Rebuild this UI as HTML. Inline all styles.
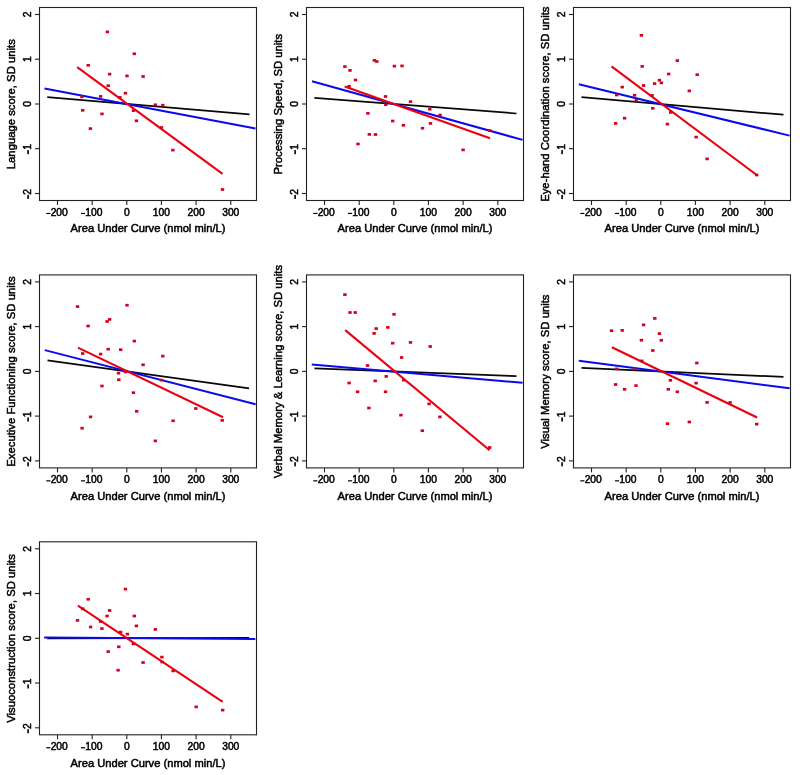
<!DOCTYPE html><html><head><meta charset="utf-8"><style>html,body{margin:0;padding:0;background:#fff;}svg{display:block;will-change:transform;}text{font-family:"Liberation Sans",sans-serif;fill:#000;stroke:#000;stroke-width:0.5px;}</style></head><body>
<svg width="800" height="775" viewBox="0 0 800 775">
<g transform="translate(0,0)"><clipPath id="c0"><rect x="39.5" y="7.5" width="217.0" height="193.0"/></clipPath><g clip-path="url(#c0)"><line x1="47.3" y1="97.1" x2="249.5" y2="114.3" stroke="#080808" stroke-width="1.75"/><line x1="44.5" y1="88.4" x2="255.5" y2="128.4" stroke="#0a0aee" stroke-width="2.0"/><line x1="77.2" y1="67.2" x2="222.5" y2="173.9" stroke="#ec0010" stroke-width="2.1"/><rect x="105.70" y="30.55" width="3.4" height="2.7" fill="#d4001e"/><rect x="132.60" y="52.45" width="3.4" height="2.7" fill="#d4001e"/><rect x="86.50" y="63.95" width="3.4" height="2.7" fill="#d4001e"/><rect x="107.90" y="72.75" width="3.4" height="2.7" fill="#d4001e"/><rect x="125.30" y="74.55" width="3.4" height="2.7" fill="#d4001e"/><rect x="141.40" y="75.15" width="3.4" height="2.7" fill="#d4001e"/><rect x="106.50" y="84.35" width="3.4" height="2.7" fill="#d4001e"/><rect x="123.70" y="91.85" width="3.4" height="2.7" fill="#d4001e"/><rect x="98.90" y="95.05" width="3.4" height="2.7" fill="#d4001e"/><rect x="80.20" y="95.45" width="3.4" height="2.7" fill="#d4001e"/><rect x="118.20" y="96.05" width="3.4" height="2.7" fill="#d4001e"/><rect x="153.60" y="103.45" width="3.4" height="2.7" fill="#d4001e"/><rect x="161.10" y="103.85" width="3.4" height="2.7" fill="#d4001e"/><rect x="159.70" y="126.15" width="3.4" height="2.7" fill="#d4001e"/><rect x="171.20" y="148.75" width="3.4" height="2.7" fill="#d4001e"/><rect x="220.80" y="188.15" width="3.4" height="2.7" fill="#d4001e"/><rect x="81.00" y="108.95" width="3.4" height="2.7" fill="#d4001e"/><rect x="100.30" y="112.55" width="3.4" height="2.7" fill="#d4001e"/><rect x="131.80" y="109.25" width="3.4" height="2.7" fill="#d4001e"/><rect x="134.70" y="119.45" width="3.4" height="2.7" fill="#d4001e"/><rect x="88.70" y="127.25" width="3.4" height="2.7" fill="#d4001e"/></g></g><g transform="translate(0,0)"><rect x="39.5" y="7.5" width="217.0" height="193.0" fill="none" stroke="#222" stroke-width="1.1"/><line x1="35" y1="14.5" x2="39.5" y2="14.5" stroke="#222" stroke-width="1.1"/><g transform="translate(31,14.5) rotate(-90)"><text x="0" y="0" text-anchor="middle" font-size="10.3" class="t">2</text></g><line x1="35" y1="59.2" x2="39.5" y2="59.2" stroke="#222" stroke-width="1.1"/><g transform="translate(31,59.2) rotate(-90)"><text x="0" y="0" text-anchor="middle" font-size="10.3" class="t">1</text></g><line x1="35" y1="104.0" x2="39.5" y2="104.0" stroke="#222" stroke-width="1.1"/><g transform="translate(31,104.0) rotate(-90)"><text x="0" y="0" text-anchor="middle" font-size="10.3" class="t">0</text></g><line x1="35" y1="148.7" x2="39.5" y2="148.7" stroke="#222" stroke-width="1.1"/><g transform="translate(31,148.7) rotate(-90)"><rect x="-5.48" y="-3.70" width="4.12" height="1.6" fill="#000"/><text x="-1.15" y="0" font-size="10.3" class="t">1</text></g><line x1="35" y1="193.5" x2="39.5" y2="193.5" stroke="#222" stroke-width="1.1"/><g transform="translate(31,193.5) rotate(-90)"><rect x="-5.48" y="-3.70" width="4.12" height="1.6" fill="#000"/><text x="-1.15" y="0" font-size="10.3" class="t">2</text></g><line x1="57.5" y1="200.5" x2="57.5" y2="205" stroke="#222" stroke-width="1.1"/><g transform="translate(57.50,215.8)"><rect x="-11.21" y="-2.95" width="4.12" height="1.2" fill="#000"/><text x="-6.88" y="0" font-size="10.3" class="t">200</text></g><line x1="92.2" y1="200.5" x2="92.2" y2="205" stroke="#222" stroke-width="1.1"/><g transform="translate(92.15,215.8)"><rect x="-11.21" y="-2.95" width="4.12" height="1.2" fill="#000"/><text x="-6.88" y="0" font-size="10.3" class="t">100</text></g><line x1="126.8" y1="200.5" x2="126.8" y2="205" stroke="#222" stroke-width="1.1"/><g transform="translate(126.80,215.8)"><text x="0" y="0" text-anchor="middle" font-size="10.3" class="t">0</text></g><line x1="161.4" y1="200.5" x2="161.4" y2="205" stroke="#222" stroke-width="1.1"/><g transform="translate(161.45,215.8)"><text x="0" y="0" text-anchor="middle" font-size="10.3" class="t">100</text></g><line x1="196.1" y1="200.5" x2="196.1" y2="205" stroke="#222" stroke-width="1.1"/><g transform="translate(196.10,215.8)"><text x="0" y="0" text-anchor="middle" font-size="10.3" class="t">200</text></g><line x1="230.8" y1="200.5" x2="230.8" y2="205" stroke="#222" stroke-width="1.1"/><g transform="translate(230.75,215.8)"><text x="0" y="0" text-anchor="middle" font-size="10.3" class="t">300</text></g><text x="148" y="232.3" text-anchor="middle" font-size="11.15">Area Under Curve (nmol min/L)</text><text transform="translate(15.2,104.2) rotate(-90)" text-anchor="middle" font-size="11.3">Language score, SD units</text></g>
<g transform="translate(267,0)"><clipPath id="c1"><rect x="39.5" y="7.5" width="217.0" height="193.0"/></clipPath><g clip-path="url(#c1)"><line x1="47.4" y1="97.8" x2="249.5" y2="113.5" stroke="#080808" stroke-width="1.75"/><line x1="45.0" y1="81.3" x2="255.6" y2="139.9" stroke="#0a0aee" stroke-width="2.0"/><line x1="77.7" y1="86.4" x2="223.0" y2="138.2" stroke="#ec0010" stroke-width="2.1"/><rect x="105.70" y="59.05" width="3.4" height="2.7" fill="#d4001e"/><rect x="108.10" y="60.15" width="3.4" height="2.7" fill="#d4001e"/><rect x="76.20" y="65.25" width="3.4" height="2.7" fill="#d4001e"/><rect x="81.30" y="69.05" width="3.4" height="2.7" fill="#d4001e"/><rect x="125.70" y="64.75" width="3.4" height="2.7" fill="#d4001e"/><rect x="133.30" y="64.55" width="3.4" height="2.7" fill="#d4001e"/><rect x="86.80" y="78.65" width="3.4" height="2.7" fill="#d4001e"/><rect x="80.40" y="84.95" width="3.4" height="2.7" fill="#d4001e"/><rect x="116.80" y="95.15" width="3.4" height="2.7" fill="#d4001e"/><rect x="141.80" y="100.25" width="3.4" height="2.7" fill="#d4001e"/><rect x="117.10" y="103.35" width="3.4" height="2.7" fill="#d4001e"/><rect x="99.20" y="111.95" width="3.4" height="2.7" fill="#d4001e"/><rect x="124.00" y="119.65" width="3.4" height="2.7" fill="#d4001e"/><rect x="134.70" y="123.95" width="3.4" height="2.7" fill="#d4001e"/><rect x="100.60" y="133.05" width="3.4" height="2.7" fill="#d4001e"/><rect x="106.80" y="133.15" width="3.4" height="2.7" fill="#d4001e"/><rect x="89.30" y="142.65" width="3.4" height="2.7" fill="#d4001e"/><rect x="161.10" y="107.85" width="3.4" height="2.7" fill="#d4001e"/><rect x="171.40" y="113.75" width="3.4" height="2.7" fill="#d4001e"/><rect x="161.80" y="122.05" width="3.4" height="2.7" fill="#d4001e"/><rect x="153.80" y="126.85" width="3.4" height="2.7" fill="#d4001e"/><rect x="221.00" y="129.15" width="3.4" height="2.7" fill="#d4001e"/><rect x="194.40" y="148.55" width="3.4" height="2.7" fill="#d4001e"/></g></g><g transform="translate(267,0)"><rect x="39.5" y="7.5" width="217.0" height="193.0" fill="none" stroke="#222" stroke-width="1.1"/><line x1="35" y1="14.5" x2="39.5" y2="14.5" stroke="#222" stroke-width="1.1"/><g transform="translate(31,14.5) rotate(-90)"><text x="0" y="0" text-anchor="middle" font-size="10.3" class="t">2</text></g><line x1="35" y1="59.2" x2="39.5" y2="59.2" stroke="#222" stroke-width="1.1"/><g transform="translate(31,59.2) rotate(-90)"><text x="0" y="0" text-anchor="middle" font-size="10.3" class="t">1</text></g><line x1="35" y1="104.0" x2="39.5" y2="104.0" stroke="#222" stroke-width="1.1"/><g transform="translate(31,104.0) rotate(-90)"><text x="0" y="0" text-anchor="middle" font-size="10.3" class="t">0</text></g><line x1="35" y1="148.7" x2="39.5" y2="148.7" stroke="#222" stroke-width="1.1"/><g transform="translate(31,148.7) rotate(-90)"><rect x="-5.48" y="-3.70" width="4.12" height="1.6" fill="#000"/><text x="-1.15" y="0" font-size="10.3" class="t">1</text></g><line x1="35" y1="193.5" x2="39.5" y2="193.5" stroke="#222" stroke-width="1.1"/><g transform="translate(31,193.5) rotate(-90)"><rect x="-5.48" y="-3.70" width="4.12" height="1.6" fill="#000"/><text x="-1.15" y="0" font-size="10.3" class="t">2</text></g><line x1="57.5" y1="200.5" x2="57.5" y2="205" stroke="#222" stroke-width="1.1"/><g transform="translate(57.50,215.8)"><rect x="-11.21" y="-2.95" width="4.12" height="1.2" fill="#000"/><text x="-6.88" y="0" font-size="10.3" class="t">200</text></g><line x1="92.2" y1="200.5" x2="92.2" y2="205" stroke="#222" stroke-width="1.1"/><g transform="translate(92.15,215.8)"><rect x="-11.21" y="-2.95" width="4.12" height="1.2" fill="#000"/><text x="-6.88" y="0" font-size="10.3" class="t">100</text></g><line x1="126.8" y1="200.5" x2="126.8" y2="205" stroke="#222" stroke-width="1.1"/><g transform="translate(126.80,215.8)"><text x="0" y="0" text-anchor="middle" font-size="10.3" class="t">0</text></g><line x1="161.4" y1="200.5" x2="161.4" y2="205" stroke="#222" stroke-width="1.1"/><g transform="translate(161.45,215.8)"><text x="0" y="0" text-anchor="middle" font-size="10.3" class="t">100</text></g><line x1="196.1" y1="200.5" x2="196.1" y2="205" stroke="#222" stroke-width="1.1"/><g transform="translate(196.10,215.8)"><text x="0" y="0" text-anchor="middle" font-size="10.3" class="t">200</text></g><line x1="230.8" y1="200.5" x2="230.8" y2="205" stroke="#222" stroke-width="1.1"/><g transform="translate(230.75,215.8)"><text x="0" y="0" text-anchor="middle" font-size="10.3" class="t">300</text></g><text x="148" y="232.3" text-anchor="middle" font-size="11.15">Area Under Curve (nmol min/L)</text><text transform="translate(15.2,104.2) rotate(-90)" text-anchor="middle" font-size="11.3">Processing Speed, SD units</text></g>
<g transform="translate(534,0)"><clipPath id="c2"><rect x="39.5" y="7.5" width="217.0" height="193.0"/></clipPath><g clip-path="url(#c2)"><line x1="47.5" y1="97.2" x2="249.5" y2="114.7" stroke="#080808" stroke-width="1.75"/><line x1="44.8" y1="84.3" x2="255.6" y2="135.6" stroke="#0a0aee" stroke-width="2.0"/><line x1="77.5" y1="66.4" x2="222.7" y2="175" stroke="#ec0010" stroke-width="2.1"/><rect x="105.70" y="33.95" width="3.4" height="2.7" fill="#d4001e"/><rect x="141.60" y="59.25" width="3.4" height="2.7" fill="#d4001e"/><rect x="106.50" y="65.05" width="3.4" height="2.7" fill="#d4001e"/><rect x="133.00" y="72.65" width="3.4" height="2.7" fill="#d4001e"/><rect x="123.70" y="78.85" width="3.4" height="2.7" fill="#d4001e"/><rect x="125.70" y="81.45" width="3.4" height="2.7" fill="#d4001e"/><rect x="118.90" y="82.25" width="3.4" height="2.7" fill="#d4001e"/><rect x="107.90" y="84.15" width="3.4" height="2.7" fill="#d4001e"/><rect x="86.50" y="85.75" width="3.4" height="2.7" fill="#d4001e"/><rect x="81.00" y="93.65" width="3.4" height="2.7" fill="#d4001e"/><rect x="98.90" y="93.85" width="3.4" height="2.7" fill="#d4001e"/><rect x="116.40" y="94.05" width="3.4" height="2.7" fill="#d4001e"/><rect x="100.60" y="98.95" width="3.4" height="2.7" fill="#d4001e"/><rect x="161.50" y="73.35" width="3.4" height="2.7" fill="#d4001e"/><rect x="153.60" y="89.55" width="3.4" height="2.7" fill="#d4001e"/><rect x="117.10" y="106.95" width="3.4" height="2.7" fill="#d4001e"/><rect x="88.90" y="116.85" width="3.4" height="2.7" fill="#d4001e"/><rect x="79.90" y="122.05" width="3.4" height="2.7" fill="#d4001e"/><rect x="131.70" y="122.75" width="3.4" height="2.7" fill="#d4001e"/><rect x="135.00" y="111.05" width="3.4" height="2.7" fill="#d4001e"/><rect x="160.40" y="135.75" width="3.4" height="2.7" fill="#d4001e"/><rect x="171.40" y="157.55" width="3.4" height="2.7" fill="#d4001e"/><rect x="221.00" y="173.65" width="3.4" height="2.7" fill="#d4001e"/></g></g><g transform="translate(534,0)"><rect x="39.5" y="7.5" width="217.0" height="193.0" fill="none" stroke="#222" stroke-width="1.1"/><line x1="35" y1="14.5" x2="39.5" y2="14.5" stroke="#222" stroke-width="1.1"/><g transform="translate(31,14.5) rotate(-90)"><text x="0" y="0" text-anchor="middle" font-size="10.3" class="t">2</text></g><line x1="35" y1="59.2" x2="39.5" y2="59.2" stroke="#222" stroke-width="1.1"/><g transform="translate(31,59.2) rotate(-90)"><text x="0" y="0" text-anchor="middle" font-size="10.3" class="t">1</text></g><line x1="35" y1="104.0" x2="39.5" y2="104.0" stroke="#222" stroke-width="1.1"/><g transform="translate(31,104.0) rotate(-90)"><text x="0" y="0" text-anchor="middle" font-size="10.3" class="t">0</text></g><line x1="35" y1="148.7" x2="39.5" y2="148.7" stroke="#222" stroke-width="1.1"/><g transform="translate(31,148.7) rotate(-90)"><rect x="-5.48" y="-3.70" width="4.12" height="1.6" fill="#000"/><text x="-1.15" y="0" font-size="10.3" class="t">1</text></g><line x1="35" y1="193.5" x2="39.5" y2="193.5" stroke="#222" stroke-width="1.1"/><g transform="translate(31,193.5) rotate(-90)"><rect x="-5.48" y="-3.70" width="4.12" height="1.6" fill="#000"/><text x="-1.15" y="0" font-size="10.3" class="t">2</text></g><line x1="57.5" y1="200.5" x2="57.5" y2="205" stroke="#222" stroke-width="1.1"/><g transform="translate(57.50,215.8)"><rect x="-11.21" y="-2.95" width="4.12" height="1.2" fill="#000"/><text x="-6.88" y="0" font-size="10.3" class="t">200</text></g><line x1="92.2" y1="200.5" x2="92.2" y2="205" stroke="#222" stroke-width="1.1"/><g transform="translate(92.15,215.8)"><rect x="-11.21" y="-2.95" width="4.12" height="1.2" fill="#000"/><text x="-6.88" y="0" font-size="10.3" class="t">100</text></g><line x1="126.8" y1="200.5" x2="126.8" y2="205" stroke="#222" stroke-width="1.1"/><g transform="translate(126.80,215.8)"><text x="0" y="0" text-anchor="middle" font-size="10.3" class="t">0</text></g><line x1="161.4" y1="200.5" x2="161.4" y2="205" stroke="#222" stroke-width="1.1"/><g transform="translate(161.45,215.8)"><text x="0" y="0" text-anchor="middle" font-size="10.3" class="t">100</text></g><line x1="196.1" y1="200.5" x2="196.1" y2="205" stroke="#222" stroke-width="1.1"/><g transform="translate(196.10,215.8)"><text x="0" y="0" text-anchor="middle" font-size="10.3" class="t">200</text></g><line x1="230.8" y1="200.5" x2="230.8" y2="205" stroke="#222" stroke-width="1.1"/><g transform="translate(230.75,215.8)"><text x="0" y="0" text-anchor="middle" font-size="10.3" class="t">300</text></g><text x="148" y="232.3" text-anchor="middle" font-size="11.15">Area Under Curve (nmol min/L)</text><text transform="translate(15.2,104.2) rotate(-90)" text-anchor="middle" font-size="11.3">Eye-hand Coordination score, SD units</text></g>
<g transform="translate(0,267)"><clipPath id="c3"><rect x="39.5" y="7.5" width="217.0" height="193.0"/></clipPath><g clip-path="url(#c3)"><line x1="47.5" y1="93.4" x2="249.1" y2="121.3" stroke="#080808" stroke-width="1.75"/><line x1="44.8" y1="83.1" x2="255.6" y2="137.3" stroke="#0a0aee" stroke-width="2.0"/><line x1="77.9" y1="80.6" x2="223.1" y2="150.2" stroke="#ec0010" stroke-width="2.1"/><rect x="75.80" y="38.25" width="3.4" height="2.7" fill="#d4001e"/><rect x="125.30" y="36.85" width="3.4" height="2.7" fill="#d4001e"/><rect x="107.90" y="51.05" width="3.4" height="2.7" fill="#d4001e"/><rect x="105.40" y="53.15" width="3.4" height="2.7" fill="#d4001e"/><rect x="86.40" y="57.65" width="3.4" height="2.7" fill="#d4001e"/><rect x="132.60" y="72.75" width="3.4" height="2.7" fill="#d4001e"/><rect x="106.50" y="80.85" width="3.4" height="2.7" fill="#d4001e"/><rect x="119.00" y="81.35" width="3.4" height="2.7" fill="#d4001e"/><rect x="81.00" y="85.15" width="3.4" height="2.7" fill="#d4001e"/><rect x="98.90" y="85.75" width="3.4" height="2.7" fill="#d4001e"/><rect x="141.40" y="96.45" width="3.4" height="2.7" fill="#d4001e"/><rect x="116.80" y="104.85" width="3.4" height="2.7" fill="#d4001e"/><rect x="123.70" y="103.65" width="3.4" height="2.7" fill="#d4001e"/><rect x="161.10" y="87.75" width="3.4" height="2.7" fill="#d4001e"/><rect x="117.10" y="111.35" width="3.4" height="2.7" fill="#d4001e"/><rect x="100.30" y="117.65" width="3.4" height="2.7" fill="#d4001e"/><rect x="131.70" y="124.35" width="3.4" height="2.7" fill="#d4001e"/><rect x="135.00" y="142.95" width="3.4" height="2.7" fill="#d4001e"/><rect x="88.90" y="148.55" width="3.4" height="2.7" fill="#d4001e"/><rect x="80.40" y="159.85" width="3.4" height="2.7" fill="#d4001e"/><rect x="159.70" y="111.75" width="3.4" height="2.7" fill="#d4001e"/><rect x="194.10" y="140.15" width="3.4" height="2.7" fill="#d4001e"/><rect x="171.40" y="152.45" width="3.4" height="2.7" fill="#d4001e"/><rect x="220.50" y="152.05" width="3.4" height="2.7" fill="#d4001e"/><rect x="153.60" y="172.55" width="3.4" height="2.7" fill="#d4001e"/></g></g><g transform="translate(0,267.4)"><rect x="39.5" y="7.5" width="217.0" height="193.0" fill="none" stroke="#222" stroke-width="1.1"/><line x1="35" y1="14.5" x2="39.5" y2="14.5" stroke="#222" stroke-width="1.1"/><g transform="translate(31,14.5) rotate(-90)"><text x="0" y="0" text-anchor="middle" font-size="10.3" class="t">2</text></g><line x1="35" y1="59.2" x2="39.5" y2="59.2" stroke="#222" stroke-width="1.1"/><g transform="translate(31,59.2) rotate(-90)"><text x="0" y="0" text-anchor="middle" font-size="10.3" class="t">1</text></g><line x1="35" y1="104.0" x2="39.5" y2="104.0" stroke="#222" stroke-width="1.1"/><g transform="translate(31,104.0) rotate(-90)"><text x="0" y="0" text-anchor="middle" font-size="10.3" class="t">0</text></g><line x1="35" y1="148.7" x2="39.5" y2="148.7" stroke="#222" stroke-width="1.1"/><g transform="translate(31,148.7) rotate(-90)"><rect x="-5.48" y="-3.70" width="4.12" height="1.6" fill="#000"/><text x="-1.15" y="0" font-size="10.3" class="t">1</text></g><line x1="35" y1="193.5" x2="39.5" y2="193.5" stroke="#222" stroke-width="1.1"/><g transform="translate(31,193.5) rotate(-90)"><rect x="-5.48" y="-3.70" width="4.12" height="1.6" fill="#000"/><text x="-1.15" y="0" font-size="10.3" class="t">2</text></g><line x1="57.5" y1="200.5" x2="57.5" y2="205" stroke="#222" stroke-width="1.1"/><g transform="translate(57.50,215.8)"><rect x="-11.21" y="-2.95" width="4.12" height="1.2" fill="#000"/><text x="-6.88" y="0" font-size="10.3" class="t">200</text></g><line x1="92.2" y1="200.5" x2="92.2" y2="205" stroke="#222" stroke-width="1.1"/><g transform="translate(92.15,215.8)"><rect x="-11.21" y="-2.95" width="4.12" height="1.2" fill="#000"/><text x="-6.88" y="0" font-size="10.3" class="t">100</text></g><line x1="126.8" y1="200.5" x2="126.8" y2="205" stroke="#222" stroke-width="1.1"/><g transform="translate(126.80,215.8)"><text x="0" y="0" text-anchor="middle" font-size="10.3" class="t">0</text></g><line x1="161.4" y1="200.5" x2="161.4" y2="205" stroke="#222" stroke-width="1.1"/><g transform="translate(161.45,215.8)"><text x="0" y="0" text-anchor="middle" font-size="10.3" class="t">100</text></g><line x1="196.1" y1="200.5" x2="196.1" y2="205" stroke="#222" stroke-width="1.1"/><g transform="translate(196.10,215.8)"><text x="0" y="0" text-anchor="middle" font-size="10.3" class="t">200</text></g><line x1="230.8" y1="200.5" x2="230.8" y2="205" stroke="#222" stroke-width="1.1"/><g transform="translate(230.75,215.8)"><text x="0" y="0" text-anchor="middle" font-size="10.3" class="t">300</text></g><text x="148" y="232.3" text-anchor="middle" font-size="11.15">Area Under Curve (nmol min/L)</text><text transform="translate(15.2,104.2) rotate(-90)" text-anchor="middle" font-size="11.3">Executive Functioning score, SD units</text></g>
<g transform="translate(267,267)"><clipPath id="c4"><rect x="39.5" y="7.5" width="217.0" height="193.0"/></clipPath><g clip-path="url(#c4)"><line x1="47.5" y1="101.4" x2="249.5" y2="109.1" stroke="#080808" stroke-width="1.75"/><line x1="44.8" y1="97.5" x2="255.6" y2="115.8" stroke="#0a0aee" stroke-width="2.0"/><line x1="78.2" y1="63.1" x2="222.6" y2="183.2" stroke="#ec0010" stroke-width="2.1"/><rect x="76.20" y="26.25" width="3.4" height="2.7" fill="#d4001e"/><rect x="81.30" y="44.15" width="3.4" height="2.7" fill="#d4001e"/><rect x="86.50" y="44.15" width="3.4" height="2.7" fill="#d4001e"/><rect x="125.30" y="45.95" width="3.4" height="2.7" fill="#d4001e"/><rect x="107.50" y="60.25" width="3.4" height="2.7" fill="#d4001e"/><rect x="119.10" y="59.05" width="3.4" height="2.7" fill="#d4001e"/><rect x="105.40" y="65.05" width="3.4" height="2.7" fill="#d4001e"/><rect x="124.00" y="74.85" width="3.4" height="2.7" fill="#d4001e"/><rect x="141.80" y="74.05" width="3.4" height="2.7" fill="#d4001e"/><rect x="132.90" y="89.15" width="3.4" height="2.7" fill="#d4001e"/><rect x="98.80" y="97.15" width="3.4" height="2.7" fill="#d4001e"/><rect x="161.50" y="78.15" width="3.4" height="2.7" fill="#d4001e"/><rect x="117.50" y="108.05" width="3.4" height="2.7" fill="#d4001e"/><rect x="106.50" y="112.55" width="3.4" height="2.7" fill="#d4001e"/><rect x="80.40" y="114.65" width="3.4" height="2.7" fill="#d4001e"/><rect x="88.90" y="123.45" width="3.4" height="2.7" fill="#d4001e"/><rect x="116.80" y="123.45" width="3.4" height="2.7" fill="#d4001e"/><rect x="100.20" y="139.65" width="3.4" height="2.7" fill="#d4001e"/><rect x="132.20" y="146.75" width="3.4" height="2.7" fill="#d4001e"/><rect x="135.00" y="111.75" width="3.4" height="2.7" fill="#d4001e"/><rect x="160.40" y="135.55" width="3.4" height="2.7" fill="#d4001e"/><rect x="171.20" y="148.55" width="3.4" height="2.7" fill="#d4001e"/><rect x="153.60" y="162.35" width="3.4" height="2.7" fill="#d4001e"/><rect x="221.00" y="179.15" width="3.4" height="2.7" fill="#d4001e"/></g></g><g transform="translate(267,267.4)"><rect x="39.5" y="7.5" width="217.0" height="193.0" fill="none" stroke="#222" stroke-width="1.1"/><line x1="35" y1="14.5" x2="39.5" y2="14.5" stroke="#222" stroke-width="1.1"/><g transform="translate(31,14.5) rotate(-90)"><text x="0" y="0" text-anchor="middle" font-size="10.3" class="t">2</text></g><line x1="35" y1="59.2" x2="39.5" y2="59.2" stroke="#222" stroke-width="1.1"/><g transform="translate(31,59.2) rotate(-90)"><text x="0" y="0" text-anchor="middle" font-size="10.3" class="t">1</text></g><line x1="35" y1="104.0" x2="39.5" y2="104.0" stroke="#222" stroke-width="1.1"/><g transform="translate(31,104.0) rotate(-90)"><text x="0" y="0" text-anchor="middle" font-size="10.3" class="t">0</text></g><line x1="35" y1="148.7" x2="39.5" y2="148.7" stroke="#222" stroke-width="1.1"/><g transform="translate(31,148.7) rotate(-90)"><rect x="-5.48" y="-3.70" width="4.12" height="1.6" fill="#000"/><text x="-1.15" y="0" font-size="10.3" class="t">1</text></g><line x1="35" y1="193.5" x2="39.5" y2="193.5" stroke="#222" stroke-width="1.1"/><g transform="translate(31,193.5) rotate(-90)"><rect x="-5.48" y="-3.70" width="4.12" height="1.6" fill="#000"/><text x="-1.15" y="0" font-size="10.3" class="t">2</text></g><line x1="57.5" y1="200.5" x2="57.5" y2="205" stroke="#222" stroke-width="1.1"/><g transform="translate(57.50,215.8)"><rect x="-11.21" y="-2.95" width="4.12" height="1.2" fill="#000"/><text x="-6.88" y="0" font-size="10.3" class="t">200</text></g><line x1="92.2" y1="200.5" x2="92.2" y2="205" stroke="#222" stroke-width="1.1"/><g transform="translate(92.15,215.8)"><rect x="-11.21" y="-2.95" width="4.12" height="1.2" fill="#000"/><text x="-6.88" y="0" font-size="10.3" class="t">100</text></g><line x1="126.8" y1="200.5" x2="126.8" y2="205" stroke="#222" stroke-width="1.1"/><g transform="translate(126.80,215.8)"><text x="0" y="0" text-anchor="middle" font-size="10.3" class="t">0</text></g><line x1="161.4" y1="200.5" x2="161.4" y2="205" stroke="#222" stroke-width="1.1"/><g transform="translate(161.45,215.8)"><text x="0" y="0" text-anchor="middle" font-size="10.3" class="t">100</text></g><line x1="196.1" y1="200.5" x2="196.1" y2="205" stroke="#222" stroke-width="1.1"/><g transform="translate(196.10,215.8)"><text x="0" y="0" text-anchor="middle" font-size="10.3" class="t">200</text></g><line x1="230.8" y1="200.5" x2="230.8" y2="205" stroke="#222" stroke-width="1.1"/><g transform="translate(230.75,215.8)"><text x="0" y="0" text-anchor="middle" font-size="10.3" class="t">300</text></g><text x="148" y="232.3" text-anchor="middle" font-size="11.15">Area Under Curve (nmol min/L)</text><text transform="translate(15.2,104.2) rotate(-90)" text-anchor="middle" font-size="11.3">Verbal Memory &amp; Learning score, SD units</text></g>
<g transform="translate(534,267)"><clipPath id="c5"><rect x="39.5" y="7.5" width="217.0" height="193.0"/></clipPath><g clip-path="url(#c5)"><line x1="47.5" y1="100.8" x2="249.5" y2="109.9" stroke="#080808" stroke-width="1.75"/><line x1="44.8" y1="93.7" x2="255.6" y2="121.3" stroke="#0a0aee" stroke-width="2.0"/><line x1="77.9" y1="80.3" x2="223.1" y2="150.5" stroke="#ec0010" stroke-width="2.1"/><rect x="119.10" y="50.05" width="3.4" height="2.7" fill="#d4001e"/><rect x="107.90" y="56.55" width="3.4" height="2.7" fill="#d4001e"/><rect x="75.80" y="62.35" width="3.4" height="2.7" fill="#d4001e"/><rect x="86.50" y="62.05" width="3.4" height="2.7" fill="#d4001e"/><rect x="123.70" y="65.25" width="3.4" height="2.7" fill="#d4001e"/><rect x="105.70" y="71.85" width="3.4" height="2.7" fill="#d4001e"/><rect x="125.60" y="71.95" width="3.4" height="2.7" fill="#d4001e"/><rect x="117.10" y="82.15" width="3.4" height="2.7" fill="#d4001e"/><rect x="106.10" y="92.55" width="3.4" height="2.7" fill="#d4001e"/><rect x="81.00" y="100.55" width="3.4" height="2.7" fill="#d4001e"/><rect x="98.90" y="100.55" width="3.4" height="2.7" fill="#d4001e"/><rect x="161.10" y="94.65" width="3.4" height="2.7" fill="#d4001e"/><rect x="79.90" y="116.15" width="3.4" height="2.7" fill="#d4001e"/><rect x="88.90" y="120.95" width="3.4" height="2.7" fill="#d4001e"/><rect x="100.30" y="117.25" width="3.4" height="2.7" fill="#d4001e"/><rect x="134.70" y="111.95" width="3.4" height="2.7" fill="#d4001e"/><rect x="132.60" y="120.95" width="3.4" height="2.7" fill="#d4001e"/><rect x="141.60" y="123.45" width="3.4" height="2.7" fill="#d4001e"/><rect x="131.80" y="155.35" width="3.4" height="2.7" fill="#d4001e"/><rect x="160.40" y="114.75" width="3.4" height="2.7" fill="#d4001e"/><rect x="171.40" y="134.05" width="3.4" height="2.7" fill="#d4001e"/><rect x="194.40" y="134.15" width="3.4" height="2.7" fill="#d4001e"/><rect x="153.60" y="153.65" width="3.4" height="2.7" fill="#d4001e"/><rect x="221.00" y="155.75" width="3.4" height="2.7" fill="#d4001e"/></g></g><g transform="translate(534,267.4)"><rect x="39.5" y="7.5" width="217.0" height="193.0" fill="none" stroke="#222" stroke-width="1.1"/><line x1="35" y1="14.5" x2="39.5" y2="14.5" stroke="#222" stroke-width="1.1"/><g transform="translate(31,14.5) rotate(-90)"><text x="0" y="0" text-anchor="middle" font-size="10.3" class="t">2</text></g><line x1="35" y1="59.2" x2="39.5" y2="59.2" stroke="#222" stroke-width="1.1"/><g transform="translate(31,59.2) rotate(-90)"><text x="0" y="0" text-anchor="middle" font-size="10.3" class="t">1</text></g><line x1="35" y1="104.0" x2="39.5" y2="104.0" stroke="#222" stroke-width="1.1"/><g transform="translate(31,104.0) rotate(-90)"><text x="0" y="0" text-anchor="middle" font-size="10.3" class="t">0</text></g><line x1="35" y1="148.7" x2="39.5" y2="148.7" stroke="#222" stroke-width="1.1"/><g transform="translate(31,148.7) rotate(-90)"><rect x="-5.48" y="-3.70" width="4.12" height="1.6" fill="#000"/><text x="-1.15" y="0" font-size="10.3" class="t">1</text></g><line x1="35" y1="193.5" x2="39.5" y2="193.5" stroke="#222" stroke-width="1.1"/><g transform="translate(31,193.5) rotate(-90)"><rect x="-5.48" y="-3.70" width="4.12" height="1.6" fill="#000"/><text x="-1.15" y="0" font-size="10.3" class="t">2</text></g><line x1="57.5" y1="200.5" x2="57.5" y2="205" stroke="#222" stroke-width="1.1"/><g transform="translate(57.50,215.8)"><rect x="-11.21" y="-2.95" width="4.12" height="1.2" fill="#000"/><text x="-6.88" y="0" font-size="10.3" class="t">200</text></g><line x1="92.2" y1="200.5" x2="92.2" y2="205" stroke="#222" stroke-width="1.1"/><g transform="translate(92.15,215.8)"><rect x="-11.21" y="-2.95" width="4.12" height="1.2" fill="#000"/><text x="-6.88" y="0" font-size="10.3" class="t">100</text></g><line x1="126.8" y1="200.5" x2="126.8" y2="205" stroke="#222" stroke-width="1.1"/><g transform="translate(126.80,215.8)"><text x="0" y="0" text-anchor="middle" font-size="10.3" class="t">0</text></g><line x1="161.4" y1="200.5" x2="161.4" y2="205" stroke="#222" stroke-width="1.1"/><g transform="translate(161.45,215.8)"><text x="0" y="0" text-anchor="middle" font-size="10.3" class="t">100</text></g><line x1="196.1" y1="200.5" x2="196.1" y2="205" stroke="#222" stroke-width="1.1"/><g transform="translate(196.10,215.8)"><text x="0" y="0" text-anchor="middle" font-size="10.3" class="t">200</text></g><line x1="230.8" y1="200.5" x2="230.8" y2="205" stroke="#222" stroke-width="1.1"/><g transform="translate(230.75,215.8)"><text x="0" y="0" text-anchor="middle" font-size="10.3" class="t">300</text></g><text x="148" y="232.3" text-anchor="middle" font-size="11.15">Area Under Curve (nmol min/L)</text><text transform="translate(15.2,104.2) rotate(-90)" text-anchor="middle" font-size="11.3">Visual Memory score, SD units</text></g>
<g transform="translate(0,534)"><clipPath id="c6"><rect x="39.5" y="7.5" width="217.0" height="193.0"/></clipPath><g clip-path="url(#c6)"><line x1="47.2" y1="104.3" x2="249.1" y2="103.9" stroke="#080808" stroke-width="1.75"/><line x1="44.1" y1="103.6" x2="255.3" y2="105.1" stroke="#0a0aee" stroke-width="2.0"/><line x1="77.9" y1="71.6" x2="222.7" y2="167.8" stroke="#ec0010" stroke-width="2.1"/><rect x="123.70" y="53.75" width="3.4" height="2.7" fill="#d4001e"/><rect x="86.50" y="63.95" width="3.4" height="2.7" fill="#d4001e"/><rect x="107.90" y="75.15" width="3.4" height="2.7" fill="#d4001e"/><rect x="81.00" y="73.45" width="3.4" height="2.7" fill="#d4001e"/><rect x="105.40" y="80.65" width="3.4" height="2.7" fill="#d4001e"/><rect x="132.60" y="80.65" width="3.4" height="2.7" fill="#d4001e"/><rect x="75.80" y="85.05" width="3.4" height="2.7" fill="#d4001e"/><rect x="98.90" y="86.15" width="3.4" height="2.7" fill="#d4001e"/><rect x="88.90" y="91.65" width="3.4" height="2.7" fill="#d4001e"/><rect x="100.20" y="93.25" width="3.4" height="2.7" fill="#d4001e"/><rect x="134.70" y="90.55" width="3.4" height="2.7" fill="#d4001e"/><rect x="118.90" y="96.75" width="3.4" height="2.7" fill="#d4001e"/><rect x="125.60" y="98.75" width="3.4" height="2.7" fill="#d4001e"/><rect x="153.60" y="94.05" width="3.4" height="2.7" fill="#d4001e"/><rect x="117.10" y="111.45" width="3.4" height="2.7" fill="#d4001e"/><rect x="106.50" y="116.25" width="3.4" height="2.7" fill="#d4001e"/><rect x="131.70" y="108.55" width="3.4" height="2.7" fill="#d4001e"/><rect x="141.40" y="127.15" width="3.4" height="2.7" fill="#d4001e"/><rect x="116.40" y="134.85" width="3.4" height="2.7" fill="#d4001e"/><rect x="160.20" y="121.75" width="3.4" height="2.7" fill="#d4001e"/><rect x="160.40" y="126.65" width="3.4" height="2.7" fill="#d4001e"/><rect x="171.40" y="135.55" width="3.4" height="2.7" fill="#d4001e"/><rect x="194.50" y="171.55" width="3.4" height="2.7" fill="#d4001e"/><rect x="221.00" y="174.75" width="3.4" height="2.7" fill="#d4001e"/></g></g><g transform="translate(0,534.3)"><rect x="39.5" y="7.5" width="217.0" height="193.0" fill="none" stroke="#222" stroke-width="1.1"/><line x1="35" y1="14.5" x2="39.5" y2="14.5" stroke="#222" stroke-width="1.1"/><g transform="translate(31,14.5) rotate(-90)"><text x="0" y="0" text-anchor="middle" font-size="10.3" class="t">2</text></g><line x1="35" y1="59.2" x2="39.5" y2="59.2" stroke="#222" stroke-width="1.1"/><g transform="translate(31,59.2) rotate(-90)"><text x="0" y="0" text-anchor="middle" font-size="10.3" class="t">1</text></g><line x1="35" y1="104.0" x2="39.5" y2="104.0" stroke="#222" stroke-width="1.1"/><g transform="translate(31,104.0) rotate(-90)"><text x="0" y="0" text-anchor="middle" font-size="10.3" class="t">0</text></g><line x1="35" y1="148.7" x2="39.5" y2="148.7" stroke="#222" stroke-width="1.1"/><g transform="translate(31,148.7) rotate(-90)"><rect x="-5.48" y="-3.70" width="4.12" height="1.6" fill="#000"/><text x="-1.15" y="0" font-size="10.3" class="t">1</text></g><line x1="35" y1="193.5" x2="39.5" y2="193.5" stroke="#222" stroke-width="1.1"/><g transform="translate(31,193.5) rotate(-90)"><rect x="-5.48" y="-3.70" width="4.12" height="1.6" fill="#000"/><text x="-1.15" y="0" font-size="10.3" class="t">2</text></g><line x1="57.5" y1="200.5" x2="57.5" y2="205" stroke="#222" stroke-width="1.1"/><g transform="translate(57.50,215.8)"><rect x="-11.21" y="-2.95" width="4.12" height="1.2" fill="#000"/><text x="-6.88" y="0" font-size="10.3" class="t">200</text></g><line x1="92.2" y1="200.5" x2="92.2" y2="205" stroke="#222" stroke-width="1.1"/><g transform="translate(92.15,215.8)"><rect x="-11.21" y="-2.95" width="4.12" height="1.2" fill="#000"/><text x="-6.88" y="0" font-size="10.3" class="t">100</text></g><line x1="126.8" y1="200.5" x2="126.8" y2="205" stroke="#222" stroke-width="1.1"/><g transform="translate(126.80,215.8)"><text x="0" y="0" text-anchor="middle" font-size="10.3" class="t">0</text></g><line x1="161.4" y1="200.5" x2="161.4" y2="205" stroke="#222" stroke-width="1.1"/><g transform="translate(161.45,215.8)"><text x="0" y="0" text-anchor="middle" font-size="10.3" class="t">100</text></g><line x1="196.1" y1="200.5" x2="196.1" y2="205" stroke="#222" stroke-width="1.1"/><g transform="translate(196.10,215.8)"><text x="0" y="0" text-anchor="middle" font-size="10.3" class="t">200</text></g><line x1="230.8" y1="200.5" x2="230.8" y2="205" stroke="#222" stroke-width="1.1"/><g transform="translate(230.75,215.8)"><text x="0" y="0" text-anchor="middle" font-size="10.3" class="t">300</text></g><text x="148" y="232.3" text-anchor="middle" font-size="11.15">Area Under Curve (nmol min/L)</text><text transform="translate(15.2,104.2) rotate(-90)" text-anchor="middle" font-size="11.3">Visuoconstruction score, SD units</text></g>
</svg></body></html>
